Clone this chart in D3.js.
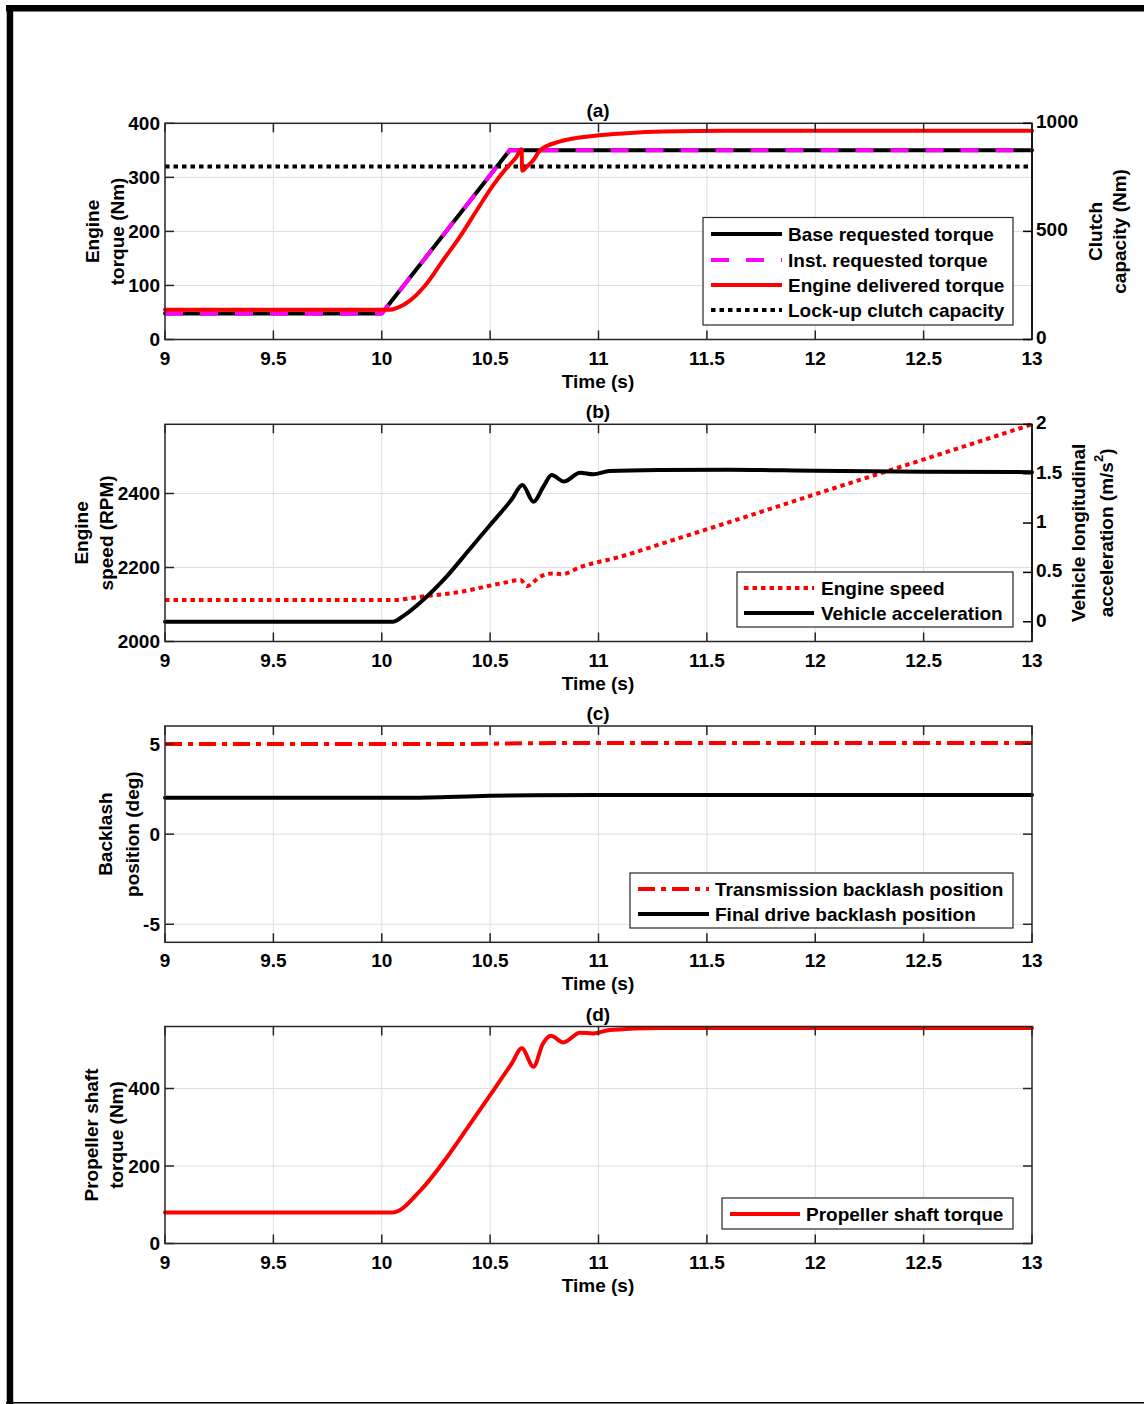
<!DOCTYPE html>
<html><head><meta charset="utf-8">
<script src="https://cdn.jsdelivr.net/npm/d3@7"></script>
<style>
html,body{margin:0;padding:0;background:#fff;}
svg text{font-family:"Liberation Sans",Arial,Helvetica,sans-serif;font-weight:bold;fill:#000;}
</style></head>
<body>
<svg id="c" width="1144" height="1404"></svg>
<script>
// ---------- DATA ----------
const xTicks = [9, 9.5, 10, 10.5, 11, 11.5, 12, 12.5, 13];
const xTickLabels = ["9","9.5","10","10.5","11","11.5","12","12.5","13"];

// (a)
const aLeftTicks = [0, 100, 200, 300, 400];
const aRightTicks = [0, 500, 1000];
const baseT = [9, 10.0, 10.59, 13];
const baseV = [48, 48, 350, 350];
const instT = [9, 10.0, 10.59, 13];
const instV = [48, 48, 350, 350];
const delT = [9, 10.03, 10.08, 10.13, 10.2, 10.28, 10.36, 10.44, 10.515, 10.575, 10.62, 10.645, 10.648, 10.665, 10.70, 10.73, 10.82, 10.976, 11.13, 11.3, 11.6, 12, 13];
const delV = [55, 55, 60, 72, 100, 145, 190, 240, 286, 317, 337, 352, 312, 318, 332, 350, 366, 376.6, 381.6, 384.6, 386, 386, 386];
const lockT = [9, 13];
const lockV = [800, 800];

// (b)
const bLeftTicks = [2000, 2200, 2400];
const bRightTicks = [0, 0.5, 1, 1.5, 2];
const speedT = [9, 10.05, 10.18, 10.36, 10.55, 10.64, 10.67, 10.73, 10.79, 10.83, 10.92, 11.1, 11.3, 11.6, 12, 12.5, 13];
const speedV = [2112, 2112, 2121, 2134, 2157, 2166, 2150, 2175, 2184, 2182, 2202, 2229, 2266, 2322, 2398, 2492, 2587];
const accT = [9, 10.05, 10.1, 10.18, 10.3, 10.4, 10.5, 10.6, 10.649, 10.70, 10.746, 10.784, 10.84, 10.915, 10.976, 11.05, 11.28, 11.6, 12, 12.5, 13];
const accV = [0, 0, 0.06, 0.2, 0.46, 0.72, 0.98, 1.24, 1.385, 1.216, 1.37, 1.486, 1.42, 1.51, 1.493, 1.527, 1.537, 1.54, 1.53, 1.52, 1.515];

// (c)
const cTicks = [-5, 0, 5];
const transT = [9, 10.3, 10.8, 13];
const transV = [5.0, 5.0, 5.05, 5.05];
const fdT = [9, 10.1, 10.3, 10.5, 10.7, 11, 13];
const fdV = [2.02, 2.02, 2.06, 2.13, 2.16, 2.17, 2.17];

// (d)
const dTicks = [0, 200, 400];
const propT = [9, 10.05, 10.18, 10.3, 10.4, 10.5, 10.6, 10.646, 10.70, 10.743, 10.78, 10.838, 10.915, 10.976, 11.053, 11.28, 13];
const propV = [80, 80, 138, 222, 302, 383, 465, 504, 456, 515, 536, 519, 544, 542, 551, 556, 556];

// ---------- DRAW ----------
const svg = d3.select("#c");
const X0 = 165, X1 = 1032;
const x = d3.scaleLinear().domain([9, 13]).range([X0, X1]);
const FS = 19;
const axisCol = "#262626";
const gridCol = "#dedede";
const LW = 4;

// page border
svg.append("rect").attr("x",6).attr("y",5).attr("width",1138).attr("height",6.5).attr("fill","#000");
svg.append("rect").attr("x",6.7).attr("y",5).attr("width",6.5).attr("height",1399).attr("fill","#000");
svg.append("line").attr("x1",6).attr("x2",1144).attr("y1",1402.8).attr("y2",1402.8).attr("stroke","#000").attr("stroke-width",1.5);

function toPts(T, V) { return T.map((t,i)=>[t, V[i]]); }

function panel(opt) {
  const g = svg.append("g");
  const y = d3.scaleLinear().domain(opt.yDom).range([opt.bot, opt.top]);
  const yR = opt.yRDom ? d3.scaleLinear().domain(opt.yRDom).range([opt.bot, opt.top]) : null;
  // grid
  g.selectAll(null).data(xTicks.slice(1,-1)).enter().append("line")
    .attr("x1",d=>x(d)).attr("x2",d=>x(d)).attr("y1",opt.top).attr("y2",opt.bot)
    .attr("stroke",gridCol).attr("stroke-width",1);
  g.selectAll(null).data(opt.yTicks.filter(v=>y(v)>opt.top+1 && y(v)<opt.bot-1)).enter().append("line")
    .attr("x1",X0).attr("x2",X1).attr("y1",d=>y(d)).attr("y2",d=>y(d))
    .attr("stroke",gridCol).attr("stroke-width",1);
  // data
  const plot = g.append("g");
  opt.series.forEach(s => {
    const sc = s.right ? yR : y;
    const line = d3.line().x(d=>x(d[0])).y(d=>sc(d[1])).curve(s.curve || d3.curveMonotoneX);
    plot.append("path").datum(toPts(s.t, s.v)).attr("d", line)
      .attr("fill","none").attr("stroke",s.color).attr("stroke-width",s.w||LW)
      .attr("stroke-dasharray", s.dash||null).attr("stroke-linejoin","round")
      .attr("stroke-linecap", s.dash ? "butt" : "round");
  });
  // box
  g.append("rect").attr("x",X0).attr("y",opt.top).attr("width",X1-X0).attr("height",opt.bot-opt.top)
    .attr("fill","none").attr("stroke",axisCol).attr("stroke-width",1.5);
  if (yR) {
    g.append("line").attr("x1",X1).attr("x2",X1).attr("y1",opt.top).attr("y2",opt.bot).attr("stroke","#000").attr("stroke-width",1.5);
  }
  // x ticks (bottom & top, inward)
  xTicks.forEach(t => {
    g.append("line").attr("x1",x(t)).attr("x2",x(t)).attr("y1",opt.bot).attr("y2",opt.bot-9).attr("stroke",axisCol).attr("stroke-width",1.5);
    g.append("line").attr("x1",x(t)).attr("x2",x(t)).attr("y1",opt.top).attr("y2",opt.top+9).attr("stroke",axisCol).attr("stroke-width",1.5);
  });
  g.selectAll(null).data(xTicks).enter().append("text")
    .attr("x",d=>x(d)).attr("y",opt.bot+25).attr("text-anchor","middle").attr("font-size",FS)
    .attr("fill","#262626").text((d,i)=>xTickLabels[i]);
  g.append("text").attr("x",598).attr("y",opt.bot+48).attr("text-anchor","middle").attr("font-size",FS).text("Time (s)");
  g.append("text").attr("x",598).attr("y",opt.top-6).attr("text-anchor","middle").attr("font-size",FS).text(opt.title);
  // left y ticks
  opt.yTicks.forEach(v => {
    g.append("line").attr("x1",X0).attr("x2",X0+9).attr("y1",y(v)).attr("y2",y(v)).attr("stroke",axisCol).attr("stroke-width",1.5);
    if (!yR) g.append("line").attr("x1",X1).attr("x2",X1-9).attr("y1",y(v)).attr("y2",y(v)).attr("stroke",axisCol).attr("stroke-width",1.5);
    g.append("text").attr("x",X0-5).attr("y",y(v)).attr("dy","0.36em").attr("text-anchor","end").attr("font-size",FS).text(v);
  });
  if (yR) {
    opt.yRTicks.forEach(v => {
      g.append("line").attr("x1",X1).attr("x2",X1-9).attr("y1",yR(v)).attr("y2",yR(v)).attr("stroke","#000").attr("stroke-width",1.5);
      g.append("text").attr("x",X1+4).attr("y",yR(v)-2).attr("dy","0.36em").attr("text-anchor","start").attr("font-size",FS).text(v);
    });
  }
  // y labels
  function vlabel(lines, xs, cy) {
    lines.forEach((ln,i) => {
      const t = g.append("text").attr("transform",`translate(${xs[i]},${cy}) rotate(-90)`)
        .attr("text-anchor","middle").attr("dominant-baseline","central").attr("font-size",FS);
      if (Array.isArray(ln)) {
        t.append("tspan").text(ln[0]);
        t.append("tspan").attr("baseline-shift","super").attr("font-size",13).text(ln[1]);
        t.append("tspan").text(ln[2]);
      } else t.text(ln);
    });
  }
  vlabel(opt.ylab, opt.ylabX, (opt.top+opt.bot)/2);
  if (opt.yRlab) vlabel(opt.yRlab, opt.yRlabX, (opt.top+opt.bot)/2);
  // legend
  const L = opt.legend;
  const lg = g.append("g");
  lg.append("rect").attr("x",L.x0).attr("y",L.y0).attr("width",L.x1-L.x0).attr("height",L.y1-L.y0)
    .attr("fill","#fff").attr("stroke",axisCol).attr("stroke-width",1.2);
  L.items.forEach((it,i) => {
    const yy = L.rows[i];
    lg.append("line").attr("x1",L.lx0).attr("x2",L.lx1).attr("y1",yy).attr("y2",yy)
      .attr("stroke",it.color).attr("stroke-width",it.w||LW).attr("stroke-dasharray",it.dash||null);
    lg.append("text").attr("x",L.tx).attr("y",yy).attr("dy","0.36em").attr("font-size",FS).text(it.label);
  });
}

const dotted = "4.5,4";
// (a)
panel({
  top:123.3, bot:339.5, yDom:[0,400], yTicks:aLeftTicks, yRDom:[0,1000], yRTicks:aRightTicks, title:"(a)",
  ylab:["Engine","torque (Nm)"], ylabX:[92,117],
  yRlab:["Clutch","capacity (Nm)"], yRlabX:[1095,1119],
  series:[
    {t:lockT, v:lockV, color:"#000", dash:dotted, right:true},
    {t:baseT, v:baseV, color:"#000", curve:d3.curveLinear},
    {t:instT, v:instV, color:"#ff00ff", dash:"18,17", curve:d3.curveLinear},
    {t:delT, v:delV, color:"#ff0000"}
  ],
  legend:{x0:703, x1:1013, y0:217.5, y1:325, lx0:711, lx1:782, tx:788, rows:[234,260,285,310],
    items:[{label:"Base requested torque",color:"#000"},
           {label:"Inst. requested torque",color:"#ff00ff",dash:"18,17"},
           {label:"Engine delivered torque",color:"#ff0000"},
           {label:"Lock-up clutch capacity",color:"#000",dash:dotted}]}
});
// (b)
panel({
  top:424.3, bot:641.5, yDom:[2000,2587], yTicks:bLeftTicks, yRDom:[-0.2,2], yRTicks:bRightTicks, title:"(b)",
  ylab:["Engine","speed (RPM)"], ylabX:[81,106],
  yRlab:["Vehicle longitudinal",["acceleration (m/s","2",")"]], yRlabX:[1078,1106],
  series:[
    {t:speedT, v:speedV, color:"#ff0000", dash:dotted},
    {t:accT, v:accV, color:"#000", right:true}
  ],
  legend:{x0:737, x1:1013, y0:572, y1:627, lx0:744, lx1:814, tx:821, rows:[588,613],
    items:[{label:"Engine speed",color:"#ff0000",dash:dotted},
           {label:"Vehicle acceleration",color:"#000"}]}
});
// (c)
panel({
  top:726, bot:942.3, yDom:[-6,6], yTicks:cTicks, title:"(c)",
  ylab:["Backlash","position (deg)"], ylabX:[105,132],
  series:[
    {t:transT, v:transV, color:"#ff0000", dash:"17,6,5,6"},
    {t:fdT, v:fdV, color:"#000"}
  ],
  legend:{x0:630, x1:1013, y0:873, y1:928, lx0:638, lx1:709, tx:715, rows:[889,914],
    items:[{label:"Transmission backlash position",color:"#ff0000",dash:"17,6,5,6"},
           {label:"Final drive backlash position",color:"#000"}]}
});
// (d)
panel({
  top:1026.5, bot:1243.5, yDom:[0,560], yTicks:dTicks, title:"(d)",
  ylab:["Propeller shaft","torque (Nm)"], ylabX:[91,116],
  series:[
    {t:propT, v:propV, color:"#ff0000"}
  ],
  legend:{x0:722, x1:1013, y0:1198, y1:1229, lx0:730, lx1:800, tx:806, rows:[1214],
    items:[{label:"Propeller shaft torque",color:"#ff0000"}]}
});
</script>
</body></html>
